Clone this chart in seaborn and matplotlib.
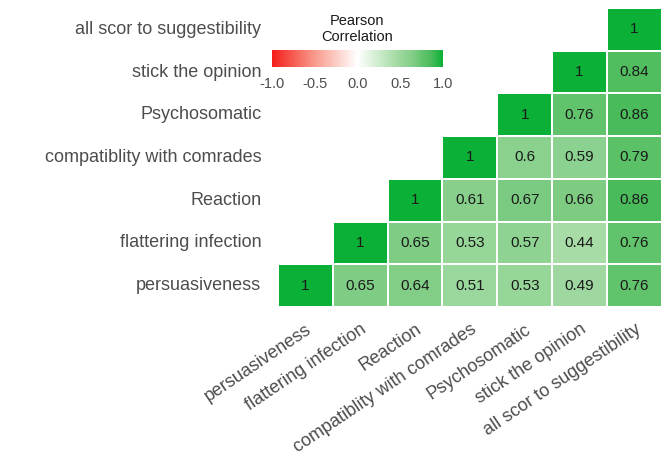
import numpy as np
import pandas as pd
import matplotlib
matplotlib.use("Agg")
import matplotlib.pyplot as plt
import seaborn as sns
from matplotlib.colors import LinearSegmentedColormap

labels = ["persuasiveness", "flattering infection", "Reaction",
          "compatiblity with comrades", "Psychosomatic",
          "stick the opinion", "all scor to suggestibility"]

# upper-triangle rows (from the diagonal onward)
r_persuasiveness = [1, 0.65, 0.64, 0.51, 0.53, 0.49, 0.76]
r_flattering = [1, 0.65, 0.53, 0.57, 0.44, 0.76]
r_reaction = [1, 0.61, 0.67, 0.66, 0.86]
r_compat = [1, 0.6, 0.59, 0.79]
r_psycho = [1, 0.76, 0.86]
r_stick = [1, 0.84]
r_allscor = [1]
rows = [r_persuasiveness, r_flattering, r_reaction, r_compat, r_psycho, r_stick, r_allscor]

n = len(labels)
M = np.full((n, n), np.nan)
for i, r in enumerate(rows):
    for k, v in enumerate(r):
        M[i, i + k] = v
df = pd.DataFrame(M, index=labels, columns=labels)
df = df.iloc[::-1]  # persuasiveness at bottom
mask = df.isna()

sns.set_style("white")
plt.rcParams['font.family'] = ['Liberation Sans', 'DejaVu Sans']

# Lab-like gradient red - white - green
cmap = LinearSegmentedColormap.from_list("rwg", [
    (0.0, "#F41E1A"), (0.25, "#F99A8C"), (0.5, "#FFFFFF"),
    (0.72, "#A8DCA8"), (0.825, "#80CD85"), (0.88, "#62C46D"),
    (0.93, "#4CBB5C"), (1.0, "#0BB136")])

fig = plt.figure(figsize=(6.64, 4.63), dpi=100)
ax = fig.add_axes([0.4187, 0.337, 0.578, 0.6458])
cax = fig.add_axes([0.4096, 0.855, 0.2575, 0.037])

sns.heatmap(df, mask=mask, cmap=cmap, vmin=-1, vmax=1,
            annot=True, fmt="g", annot_kws={"size": 11, "color": "#1a1a1a"},
            linewidths=1.2, linecolor="white", ax=ax, cbar=True, cbar_ax=cax,
            cbar_kws={"orientation": "horizontal", "ticks": [-1, -0.5, 0, 0.5, 1]})

ax.set_xlabel("")
ax.set_ylabel("")
ax.tick_params(length=0)
ax.set_yticklabels(df.index, rotation=0, fontsize=13, color="#4D4D4D")
ax.tick_params(axis="y", pad=12)
ax.set_xticklabels(df.columns, rotation=34, ha="right", va="top",
                   rotation_mode="anchor", fontsize=13, color="#4D4D4D")
ax.tick_params(axis="x", pad=10)

cb = ax.collections[0].colorbar
cb.outline.set_visible(False)
cax.set_xticklabels(["-1.0", "-0.5", "0.0", "0.5", "1.0"])
cax.tick_params(axis="x", direction="in", color="white", length=3, width=1,
                labelsize=10.5, labelcolor="#4D4D4D", top=True, bottom=True, pad=7)
fig.text(0.5376, 0.905, "Pearson\nCorrelation", ha="center", va="bottom",
         fontsize=10.5, color="#1a1a1a", linespacing=1.15)

fig.savefig("out.png", dpi=100)
